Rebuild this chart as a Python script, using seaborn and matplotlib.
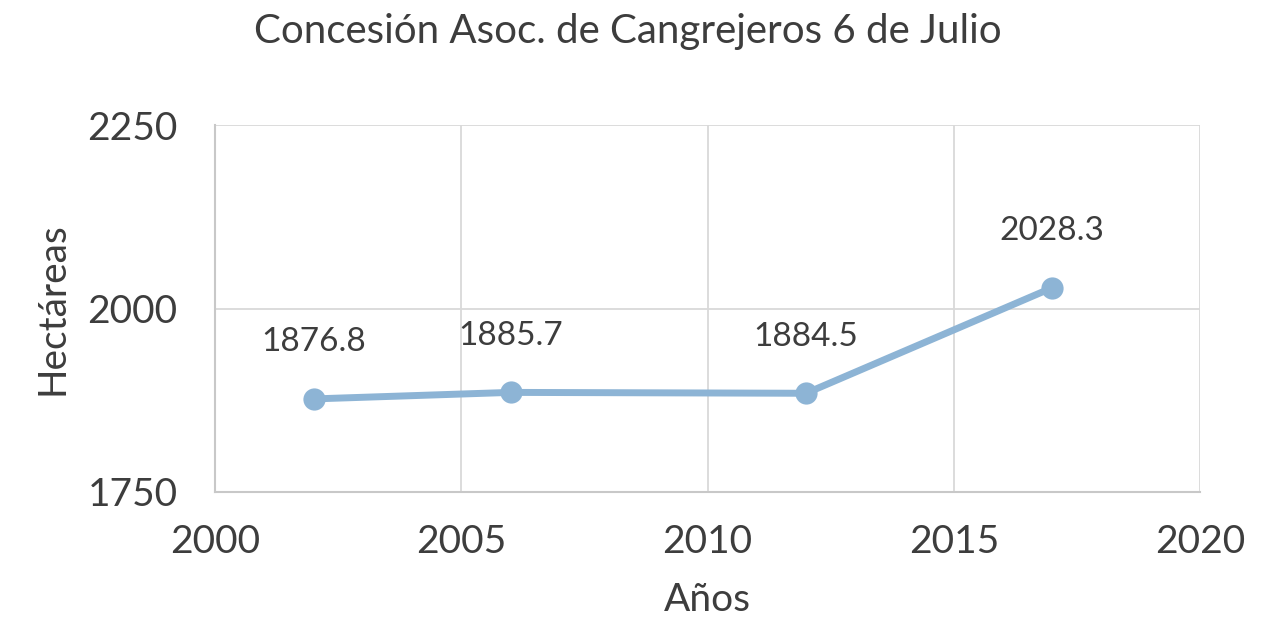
import matplotlib
matplotlib.use("Agg")
import matplotlib.pyplot as plt
import seaborn as sns
import pandas as pd

years = [2002, 2006, 2012, 2017]
hectareas = [1876.8, 1885.7, 1884.5, 2028.3]
labels = ["1876.8", "1885.7", "1884.5", "2028.3"]
x_ticks = [2000, 2005, 2010, 2015, 2020]
y_ticks = [1750, 2000, 2250]

sns.set_theme(style="white")
plt.rcParams['font.family'] = ['Lato', 'DejaVu Sans']

text_color = "#3d3d3d"
line_color = "#8db4d5"
grid_color = "#d9d9d9"

df = pd.DataFrame({"Años": years, "Hectáreas": hectareas})

fig = plt.figure(figsize=(12.66, 6.26), dpi=100)
ax = fig.add_axes([215/1266, 1 - 492/626, (1200-215)/1266, (492-125)/626])

sns.lineplot(data=df, x="Años", y="Hectáreas", ax=ax, color=line_color,
             linewidth=5, marker="o", markersize=16, markeredgewidth=0)

for xv, yv, lab in zip(years, hectareas, labels):
    ax.annotate(lab, (xv, yv), xytext=(0, 30), textcoords="offset points",
                ha="center", va="bottom", fontsize=24, color=text_color)

ax.set_xlim(2000, 2020)
ax.set_ylim(1750, 2250)
ax.set_xticks(x_ticks)
ax.set_yticks(y_ticks)
ax.grid(True, color=grid_color, linewidth=1.3)
for side in ["top", "right"]:
    ax.spines[side].set_visible(False)
for side in ["left", "bottom"]:
    ax.spines[side].set_color("#c8c8c8")
    ax.spines[side].set_linewidth(1.5)
ax.tick_params(axis="both", which="both", length=7, width=1.5, color="#c8c8c8",
               labelsize=28, labelcolor=text_color, direction="out")
ax.tick_params(axis="x", pad=16)
ax.tick_params(axis="y", pad=20)

ax.set_xlabel("Años", fontsize=28, color=text_color, labelpad=16)
ax.set_ylabel("Hectáreas", fontsize=28, color=text_color, labelpad=12)

fig.text(628/1266, 1 - 32/626, "Concesión Asoc. de Cangrejeros 6 de Julio",
         ha="center", va="center", fontsize=29, color=text_color)

fig.savefig("out.png", dpi=100, facecolor="white")
